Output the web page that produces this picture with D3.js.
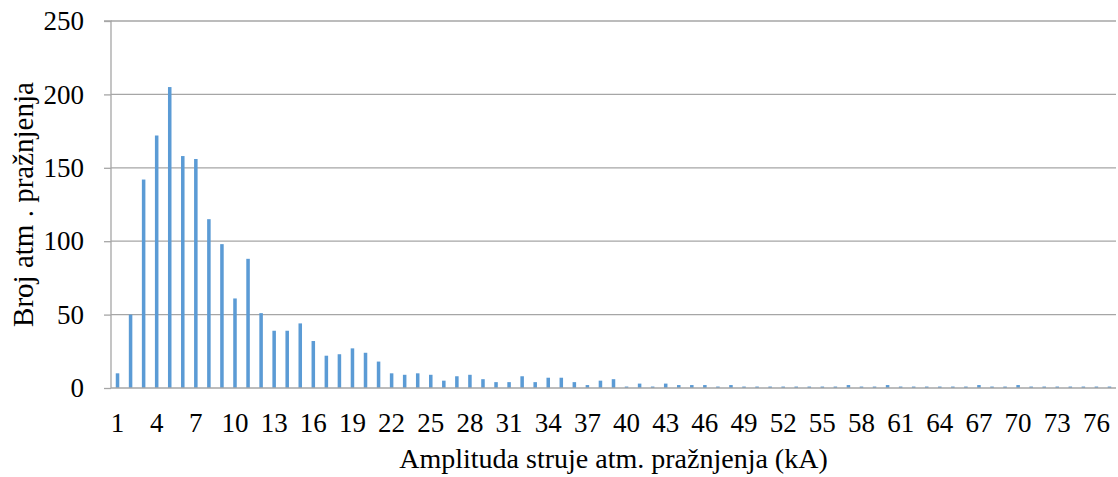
<!DOCTYPE html>
<html>
<head>
<meta charset="utf-8">
<script src="https://cdn.jsdelivr.net/npm/d3@7"></script>
<style>
  html, body { margin: 0; padding: 0; background: #fff; }
  svg { display: block; }
  text { font-family: "Liberation Serif", "Times New Roman", serif; fill: #000; }
</style>
</head>
<body>
<svg id="chart" width="1118" height="477"></svg>
<script>
const categories = d3.range(1, 78);
const values = [10, 50, 142, 172, 205, 158, 156, 115, 98, 61,
                88, 51, 39, 39, 44, 32, 22, 23, 27, 24,
                18, 10, 9, 10, 9, 5, 8, 9, 6, 4,
                4, 8, 4, 7, 7, 4, 2, 5, 6, 1,
                3, 1, 3, 2, 2, 2, 1, 2, 1, 1,
                1, 1, 1, 1, 1, 1, 2, 1, 1, 2,
                1, 1, 1, 1, 1, 1, 2, 1, 1, 2,
                1, 1, 1, 1, 1, 1, 1];
const yTicks = [0, 50, 100, 150, 200, 250];
const xTickLabels = categories.filter((d, i) => i % 3 === 0);
const xTitle = "Amplituda struje atm. pražnjenja (kA)";
const yTitle = "Broj atm . pražnjenja";

const svg = d3.select("#chart");
const margin = { left: 111, right: 2, top: 21, bottom: 89 };
const W = 1118, H = 477;
const FS = "27px";

const x = d3.scaleBand().domain(categories).range([margin.left, W - margin.right]).paddingInner(0.73).paddingOuter(0.365);
const y = d3.scaleLinear().domain([0, 250]).range([H - margin.bottom, margin.top]);

// gridlines
svg.append("g").selectAll("line").data(yTicks.filter(d => d > 0)).join("line")
  .attr("x1", margin.left).attr("x2", W - margin.right)
  .attr("y1", d => y(d)).attr("y2", d => y(d))
  .attr("stroke", "#a6a6a6").attr("stroke-width", 1.3);

// bars
svg.append("g").selectAll("rect").data(categories).join("rect")
  .attr("x", (d) => x(d))
  .attr("width", x.bandwidth())
  .attr("y", (d, i) => y(values[i]))
  .attr("height", (d, i) => y(0) - y(values[i]))
  .attr("fill", "#5b9bd5");

// y axis
const yAxis = d3.axisLeft(y).tickValues(yTicks).tickSize(7).tickPadding(20).tickFormat(d3.format("d"));
const gy = svg.append("g").attr("transform", `translate(${margin.left},0)`).call(yAxis);
gy.select(".domain").attr("stroke", "#a6a6a6").attr("stroke-width", 1.3).attr("d", `M-7,${y(250)}H0V${y(0)}`);
gy.selectAll(".tick line").attr("stroke", "#a6a6a6").attr("stroke-width", 1.3);
gy.selectAll(".tick text").style("font-family", "Liberation Serif").style("font-size", FS).attr("fill", "#000");

// x axis
const xAxis = d3.axisBottom(x).tickValues(xTickLabels).tickSize(0).tickPadding(25);
const gx = svg.append("g").attr("transform", `translate(0,${y(0)})`).call(xAxis);
gx.select(".domain").attr("stroke", "#a6a6a6").attr("stroke-width", 1.3).attr("d", `M${margin.left},0H${W - margin.right}`);
gx.selectAll(".tick text").style("font-family", "Liberation Serif").style("font-size", FS).attr("fill", "#000");

// titles
svg.append("text").attr("x", (margin.left + W - margin.right) / 2).attr("y", 468)
  .attr("text-anchor", "middle").style("font-size", "28px").text(xTitle);
svg.append("text").attr("transform", `translate(33,${(y(0) + y(250)) / 2}) rotate(-90)`)
  .attr("text-anchor", "middle").style("font-size", "29px").text(yTitle);
</script>
</body>
</html>
